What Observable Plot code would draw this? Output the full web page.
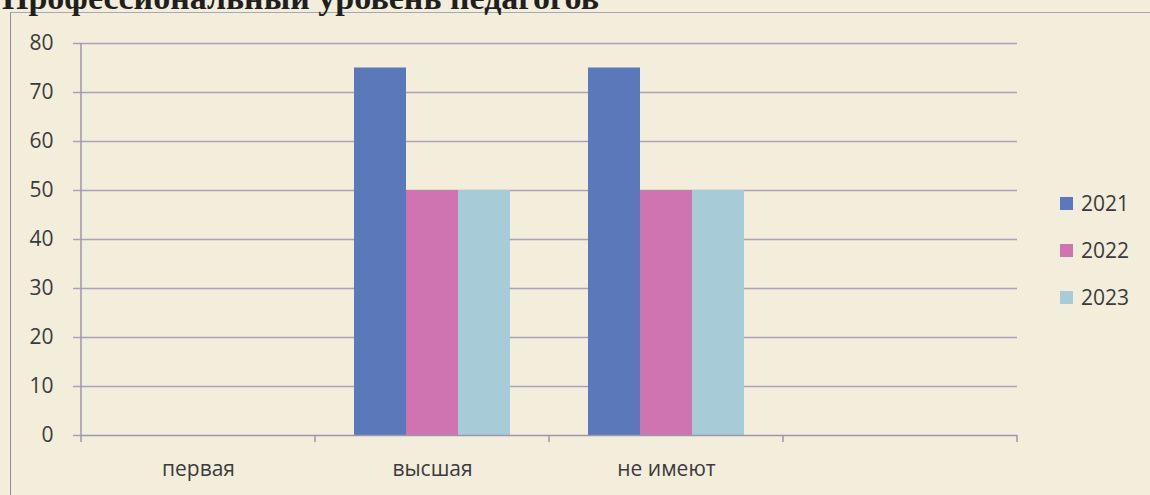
<!DOCTYPE html>
<html>
<head>
<meta charset="utf-8">
<script src="https://cdn.jsdelivr.net/npm/d3@7"></script>
<script src="https://cdn.jsdelivr.net/npm/@observablehq/plot@0.6"></script>
<style>
  html, body { margin: 0; padding: 0; }
  body { width: 1150px; height: 495px; overflow: hidden; position: relative; background: #f3eddb; font-family: "Open Sans", sans-serif; }
  #title { position: absolute; left: 2px; top: -19px; margin: 0; font: bold 34px/1 "Liberation Serif", serif; color: #1f1f1f; white-space: nowrap; }
  #frame { position: absolute; left: 10px; top: 12px; width: 1200px; height: 600px; border-left: 1.5px solid #8f8ca3; border-top: 1.5px solid #a9a6b8; }
  #chart { position: absolute; left: 0; top: 0; }
  #legend { position: absolute; left: 1060px; top: 0; }
  .item { position: absolute; left: 0; display: flex; align-items: center; white-space: nowrap; font-size: 21px; color: #3b3b3b; height: 30px; }
  .sw { width: 13px; height: 13px; margin-right: 8px; }
</style>
</head>
<body>
<div id="frame"></div>
<h1 id="title">Профессиональный уровень педагогов</h1>
<div id="chart"></div>
<div id="legend"></div>
<script>
const categories = ["первая", "высшая", "не имеют"];
const emptySlot = "";
const years = ["2021", "2022", "2023"];
const values2021 = [0, 75, 75];
const values2022 = [0, 50, 50];
const values2023 = [0, 50, 50];
const yTicks = [0, 10, 20, 30, 40, 50, 60, 70, 80];
const colors = ["#5b79ba", "#cf73b1", "#a7ccd8"];

const series = [values2021, values2022, values2023];
const data = categories.flatMap((c, i) => years.map((yr, j) => ({category: c, year: yr, value: series[j][i]})));
const fxDomain = [...categories, emptySlot];

const gridColor = "#a8a3ba";
const axisColor = "#9b97ad";

const plot = Plot.plot({
  width: 1150,
  height: 495,
  marginTop: 43,
  marginBottom: 60,
  marginLeft: 80,
  marginRight: 132,
  style: {background: "transparent", color: "#3b3b3b", fontFamily: "'Open Sans', sans-serif", fontSize: "21px", overflow: "visible"},
  fx: {domain: fxDomain, padding: 0, label: null},
  x: {domain: years, paddingInner: 0, paddingOuter: 0.75, axis: null},
  y: {domain: [0, 80], label: null},
  color: {domain: years, range: colors},
  marks: [
    Plot.gridY(yTicks.filter(t => t > 0), {stroke: gridColor, strokeOpacity: 1, strokeWidth: 1.5}),
    Plot.axisY(yTicks, {anchor: "left", tickSize: 8, tickPadding: 20, stroke: gridColor, strokeWidth: 1.5, fontSize: 21, label: null}),
    Plot.barY(data, {fx: "category", x: "year", y: "value", fill: "year"}),
    Plot.ruleY(fxDomain, {fx: d => d, y: () => 0, stroke: axisColor, strokeWidth: 1.5}),
    Plot.axisFx({anchor: "bottom", tickSize: 0, tickPadding: 26, fontSize: 21, label: null})
  ]
});

document.getElementById("chart").append(plot);

// Category boundary ticks and the vertical axis line, positioned via Plot's own scales
const fx = plot.scale("fx");
const ys = plot.scale("y");
const svg = d3.select(plot.tagName.toLowerCase() === "svg" ? plot : plot.querySelector("svg"));
const y0 = ys.apply(0);
const dom = fx.domain;
const edges = dom.map(d => fx.apply(d)).concat([fx.apply(dom[dom.length - 1]) + fx.bandwidth]);
svg.append("line")
  .attr("x1", edges[0]).attr("x2", edges[0])
  .attr("y1", ys.apply(80)).attr("y2", y0 + 7)
  .attr("stroke", axisColor).attr("stroke-width", 1.5);
svg.append("g").selectAll("line").data(edges.slice(1)).join("line")
  .attr("x1", d => d).attr("x2", d => d)
  .attr("y1", y0).attr("y2", y0 + 7)
  .attr("stroke", axisColor).attr("stroke-width", 1.5);

// Legend
const legend = document.getElementById("legend");
years.forEach((yr, i) => {
  const item = document.createElement("div");
  item.className = "item";
  item.style.top = (188 + i * 47) + "px";
  const sw = document.createElement("div");
  sw.className = "sw";
  sw.style.background = colors[i];
  const label = document.createElement("span");
  label.textContent = yr;
  item.append(sw, label);
  legend.append(item);
});
</script>
</body>
</html>
